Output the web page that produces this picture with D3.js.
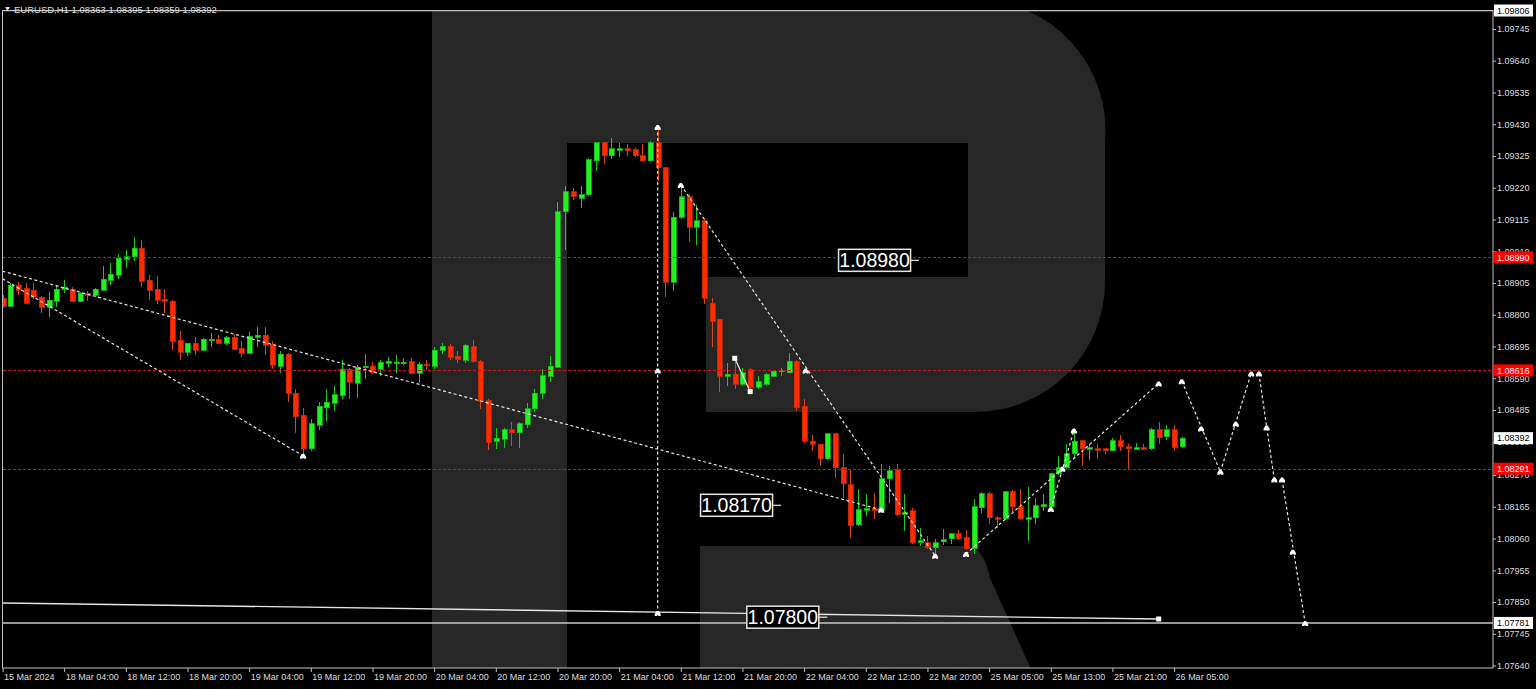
<!DOCTYPE html>
<html><head><meta charset="utf-8">
<script src="https://cdn.jsdelivr.net/npm/d3@7"></script>
<style>
html,body{margin:0;padding:0;background:#000;overflow:hidden}
svg{display:block}
text{font-family:"Liberation Sans",Arial,sans-serif}
</style></head><body>
<svg id="c" width="1536" height="689"></svg>
<script>
const symbol = "EURUSD,H1";
const opens = [1.08855,1.08828,1.08898,1.08888,1.08881,1.08858,1.08825,1.08845,1.08884,1.08884,
1.08845,1.08871,1.08865,1.08881,1.08914,1.08931,1.08984,1.08991,1.09020,1.08914,
1.08884,1.08851,1.08845,1.08715,1.08676,1.08706,1.08682,1.08715,1.08719,1.08706,
1.08725,1.08689,1.08672,1.08725,1.08732,1.08702,1.08629,1.08669,1.08540,1.08467,
1.08357,1.08434,1.08493,1.08507,1.08533,1.08619,1.08573,1.08626,1.08629,1.08619,
1.08639,1.08639,1.08639,1.08646,1.08606,1.08636,1.08629,1.08682,1.08696,1.08662,
1.08649,1.08696,1.08646,1.08517,1.08381,1.08388,1.08420,1.08410,1.08437,1.08490,
1.08540,1.08596,1.08626,1.09140,1.09206,1.09186,1.09196,1.09309,1.09368,1.09325,
1.09345,1.09349,1.09345,1.09325,1.09309,1.09368,1.09286,1.08908,1.09123,1.09190,
1.09090,1.09110,1.08838,1.08785,1.08596,1.08603,1.08570,1.08619,1.08560,1.08570,
1.08596,1.08613,1.08609,1.08646,1.08497,1.08381,1.08371,1.08324,1.08407,1.08294,
1.08238,1.08105,1.08155,1.08158,1.08152,1.08258,1.08288,1.08142,1.08152,1.08049,
1.08046,1.08029,1.08049,1.08059,1.08076,1.08062,1.08026,1.08162,1.08208,1.08129,
1.08125,1.08215,1.08165,1.08125,1.08129,1.08165,1.08165,1.08274,1.08294,1.08341,
1.08384,1.08357,1.08357,1.08357,1.08351,1.08384,1.08364,1.08357,1.08361,1.08357,
1.08420,1.08397,1.08420,1.08363];
const highs = [1.08865,1.08904,1.08908,1.08904,1.08904,1.08861,1.08875,1.08898,1.08914,1.08891,
1.08875,1.08878,1.08888,1.08961,1.08971,1.09000,1.09014,1.09057,1.09047,1.08931,
1.08928,1.08884,1.08848,1.08745,1.08708,1.08725,1.08722,1.08739,1.08732,1.08729,
1.08735,1.08712,1.08742,1.08759,1.08759,1.08712,1.08679,1.08672,1.08556,1.08493,
1.08454,1.08510,1.08553,1.08566,1.08649,1.08623,1.08633,1.08669,1.08643,1.08649,
1.08659,1.08666,1.08656,1.08656,1.08643,1.08652,1.08692,1.08706,1.08702,1.08679,
1.08702,1.08715,1.08649,1.08520,1.08424,1.08427,1.08444,1.08447,1.08507,1.08556,
1.08619,1.08662,1.09173,1.09226,1.09219,1.09226,1.09319,1.09372,1.09372,1.09385,
1.09368,1.09365,1.09352,1.09365,1.09375,1.09420,1.09289,1.09140,1.09223,1.09200,
1.09163,1.09120,1.08855,1.08787,1.08639,1.08656,1.08623,1.08623,1.08599,1.08609,
1.08616,1.08623,1.08672,1.08652,1.08523,1.08404,1.08374,1.08410,1.08410,1.08341,
1.08291,1.08225,1.08208,1.08211,1.08308,1.08301,1.08308,1.08208,1.08162,1.08095,
1.08069,1.08059,1.08092,1.08079,1.08089,1.08089,1.08192,1.08215,1.08215,1.08135,
1.08218,1.08221,1.08225,1.08231,1.08195,1.08208,1.08278,1.08334,1.08374,1.08417,
1.08387,1.08374,1.08374,1.08361,1.08394,1.08404,1.08374,1.08377,1.08374,1.08424,
1.08447,1.08437,1.08437,1.08395];
const lows = [1.08822,1.08825,1.08865,1.08835,1.08851,1.08805,1.08792,1.08825,1.08871,1.08841,
1.08841,1.08845,1.08861,1.08878,1.08898,1.08918,1.08954,1.08977,1.08891,1.08848,
1.08835,1.08805,1.08682,1.08649,1.08662,1.08666,1.08679,1.08692,1.08702,1.08699,
1.08682,1.08659,1.08669,1.08692,1.08666,1.08619,1.08606,1.08510,1.08410,1.08341,
1.08351,1.08420,1.08450,1.08483,1.08523,1.08523,1.08526,1.08589,1.08603,1.08599,
1.08626,1.08606,1.08633,1.08603,1.08573,1.08616,1.08619,1.08669,1.08652,1.08639,
1.08639,1.08639,1.08490,1.08354,1.08357,1.08361,1.08367,1.08361,1.08424,1.08477,
1.08523,1.08576,1.08623,1.09014,1.09180,1.09153,1.09193,1.09276,1.09299,1.09315,
1.09322,1.09325,1.09322,1.09305,1.09305,1.09243,1.08858,1.08878,1.09117,1.09040,
1.09030,1.08835,1.08692,1.08546,1.08566,1.08553,1.08563,1.08553,1.08556,1.08563,
1.08593,1.08596,1.08606,1.08483,1.08377,1.08348,1.08301,1.08321,1.08261,1.08195,
1.08062,1.08102,1.08135,1.08125,1.08145,1.08178,1.08135,1.08086,1.08042,1.08036,
1.08026,1.08009,1.08039,1.08042,1.08056,1.08023,1.08009,1.08145,1.08109,1.08095,
1.08122,1.08149,1.08122,1.08052,1.08109,1.08152,1.08162,1.08271,1.08291,1.08328,
1.08301,1.08321,1.08324,1.08341,1.08348,1.08348,1.08291,1.08354,1.08354,1.08354,
1.08374,1.08387,1.08351,1.08359];
const closes = [1.08828,1.08898,1.08881,1.08838,1.08858,1.08825,1.08848,1.08884,1.08891,1.08845,
1.08871,1.08865,1.08884,1.08918,1.08934,1.08987,1.08991,1.09020,1.08911,1.08881,
1.08848,1.08845,1.08712,1.08676,1.08706,1.08682,1.08719,1.08719,1.08706,1.08725,
1.08686,1.08672,1.08729,1.08732,1.08699,1.08633,1.08669,1.08540,1.08463,1.08357,
1.08440,1.08497,1.08510,1.08536,1.08619,1.08576,1.08626,1.08629,1.08609,1.08643,
1.08646,1.08643,1.08643,1.08606,1.08636,1.08633,1.08682,1.08696,1.08659,1.08652,
1.08699,1.08646,1.08513,1.08377,1.08391,1.08420,1.08410,1.08440,1.08490,1.08540,
1.08599,1.08629,1.09140,1.09206,1.09190,1.09196,1.09312,1.09368,1.09325,1.09349,
1.09349,1.09342,1.09325,1.09309,1.09368,1.09286,1.08908,1.09123,1.09190,1.09090,
1.09110,1.08855,1.08778,1.08596,1.08603,1.08570,1.08609,1.08560,1.08579,1.08603,
1.08613,1.08616,1.08646,1.08493,1.08381,1.08371,1.08324,1.08407,1.08294,1.08241,
1.08102,1.08155,1.08158,1.08152,1.08258,1.08284,1.08139,1.08145,1.08046,1.08052,
1.08029,1.08046,1.08056,1.08076,1.08059,1.08026,1.08165,1.08208,1.08129,1.08125,
1.08215,1.08165,1.08125,1.08129,1.08168,1.08172,1.08274,1.08294,1.08341,1.08381,
1.08357,1.08361,1.08354,1.08351,1.08384,1.08364,1.08357,1.08361,1.08357,1.08420,
1.08394,1.08420,1.08361,1.08392];

const timeLabels = ["15 Mar 2024","18 Mar 04:00","18 Mar 12:00","18 Mar 20:00","19 Mar 04:00","19 Mar 12:00","19 Mar 20:00","20 Mar 04:00","20 Mar 12:00","20 Mar 20:00","21 Mar 04:00","21 Mar 12:00","21 Mar 20:00","22 Mar 04:00","22 Mar 12:00","22 Mar 20:00","25 Mar 05:00","25 Mar 13:00","25 Mar 21:00","26 Mar 05:00"];
const timeLabelStep = 8;
const priceTicks = [1.09745,1.09640,1.09535,1.09430,1.09325,1.09220,1.09115,1.09010,1.08905,1.08800,1.08695,1.08590,1.08485,1.08380,1.08270,1.08165,1.08060,1.07955,1.07850,1.07745,1.07640];
const redLevels = [1.08990,1.08616,1.08291];
const whiteLevels = [1.09806,1.07781];
const currentPrice = 1.08392;

// dashed forecast / trend lines: [barIndex, price] pairs
const dashedLines = [
  [[0,1.08944],[114,1.08155]],
  [[0,1.08919],[39,1.08334]],
  [[85,1.09421],[85,1.07814]],
  [[88,1.09229],[121,1.08003]],
  [[125,1.08009],[150,1.08573]],
  [[136,1.08158],[139,1.08417]],
  [[153,1.08580],[158,1.08281]],
  [[158,1.08281],[162,1.08606]],
  [[163,1.08606],[165,1.08255]],
  [[166,1.08255],[169,1.07781]]
];
const solidLines = [
  [[0,1.07847],[150,1.07794]],
  [[95,1.08656],[97,1.08546]]
];
const squares = [[95,1.08656],[97,1.08546],[150,1.07794]];
const arrowMarks = [[39,1.08334],[85,1.09421],[85,1.08616],[85,1.07814],[88,1.09229],[104.2,1.08616],[114,1.08155],[121,1.08003],[125,1.08009],[136,1.08158],[137.5,1.08291],[139,1.08417],[150,1.08573],[153,1.08580],[155.5,1.08424],[158,1.08281],[160,1.08440],[162,1.08606],[163,1.08606],[164,1.08427],[165,1.08255],[166,1.08255],[167.4,1.08016],[169,1.07781]];
const priceTextLabels = [
  {text:"1.08980", value:1.08980, bar:108.4},
  {text:"1.08170", value:1.08170, bar:90.5},
  {text:"1.07800", value:1.07800, bar:96.5}
];

const W=1536,H=689;
const plot={left:3,top:11,right:1493,bottom:668};
const x=d3.scaleLinear().domain([0,169]).range([2.5,2.5+169*7.708]);
const y=d3.scaleLinear().domain([1.07632,1.09806]).range([668,10.5]);
const svg=d3.select("#c");
svg.append("rect").attr("width",W).attr("height",H).attr("fill","#000");
svg.append("defs").append("clipPath").attr("id","clip").append("rect")
  .attr("x",plot.left).attr("y",plot.top-1).attr("width",plot.right-plot.left).attr("height",plot.bottom-plot.top+1);
const g=svg.append("g").attr("clip-path","url(#clip)");

// watermark "R"
const wm="#262626";
g.append("path").attr("fill",wm)
 .attr("d","M432,0 H975 A130,130 0 0 1 1105,141 V282 A130,130 0 0 1 975,412 H706 V277 H968 V143 H567 V700 H432 Z");
g.append("path").attr("fill",wm)
 .attr("d","M700,546 H968 Q984,548 990,578 L1045,700 H700 Z");

// candles
const data=opens.map((o,i)=>({i,o,h:highs[i],l:lows[i],c:closes[i]}));
const cg=g.append("g").attr("shape-rendering","crispEdges");
cg.selectAll("line.w").data(data).join("line")
  .attr("x1",d=>Math.round(x(d.i))+0.5).attr("x2",d=>Math.round(x(d.i))+0.5)
  .attr("y1",d=>y(d.h)).attr("y2",d=>y(d.l))
  .attr("stroke",d=>d.c>=d.o?"#1fc81f":"#d8461a").attr("stroke-width",1);
cg.selectAll("rect.b").data(data).join("rect")
  .attr("x",d=>Math.round(x(d.i))-2).attr("width",5)
  .attr("y",d=>y(Math.max(d.o,d.c)))
  .attr("height",d=>Math.max(1.5,y(Math.min(d.o,d.c))-y(Math.max(d.o,d.c))))
  .attr("fill",d=>d.c>=d.o?"#22f022":"#ff2a00")
  .attr("stroke",d=>d.c>=d.o?"#18b818":"#c02a08").attr("stroke-width",0.8);

// level lines
g.selectAll("line.red").data(redLevels).join("line")
  .attr("x1",plot.left).attr("x2",plot.right).attr("y1",d=>Math.round(y(d))+0.5).attr("y2",d=>Math.round(y(d))+0.5)
  .attr("stroke","#d01414").attr("stroke-width",1.2).attr("stroke-dasharray","3,2");
g.selectAll("line.wl").data(whiteLevels).join("line")
  .attr("x1",plot.left).attr("x2",plot.right).attr("y1",d=>y(d)).attr("y2",d=>y(d))
  .attr("stroke","#c8c8c8").attr("stroke-width",1.6);

// trend lines
const lineGen=d3.line().x(d=>x(d[0])).y(d=>y(d[1]));
g.selectAll("path.dl").data(dashedLines).join("path")
  .attr("d",lineGen).attr("fill","none").attr("stroke","#e6e6e6").attr("stroke-width",1.2).attr("stroke-dasharray","3,2.5");
g.selectAll("path.sl").data(solidLines).join("path")
  .attr("d",lineGen).attr("fill","none").attr("stroke","#e6e6e6").attr("stroke-width",1.3);
g.selectAll("rect.sq").data(squares).join("rect")
  .attr("x",d=>x(d[0])-2.5).attr("y",d=>y(d[1])-2.5).attr("width",5).attr("height",5).attr("fill","#fff");
g.selectAll("path.am").data(arrowMarks).join("path")
  .attr("transform",d=>`translate(${x(d[0])},${y(d[1])})`)
  .attr("d","M-3,1 L-1,-2 L1,-2 L3,1 L3,3 L1,3 L0,2 L-1,3 L-3,3 Z").attr("fill","#fff");

// big price text labels
priceTextLabels.forEach(p=>{
  const lx=x(p.bar), cy=y(p.value);
  const lg=g.append("g");
  lg.append("rect").attr("x",lx+0.5).attr("y",cy-11).attr("width",72).attr("height",22)
    .attr("fill","#000").attr("stroke","#e6e6e6").attr("stroke-width",1.5);
  lg.append("text").attr("x",lx+36.5).attr("y",cy+7).attr("text-anchor","middle")
    .attr("fill","#fff").attr("font-size",19.5).text(p.text);
  lg.append("line").attr("x1",lx+72.5).attr("x2",lx+81).attr("y1",cy).attr("y2",cy)
    .attr("stroke","#e6e6e6").attr("stroke-width",1.2);
});

// frame
svg.append("rect").attr("x",2.5).attr("y",10.5).attr("width",plot.right-2.5).attr("height",plot.bottom-10.5)
  .attr("fill","none").attr("stroke","#c0c0c0").attr("stroke-width",1);

// header
const last=data[data.length-1];
svg.append("path").attr("d","M5,7 L10,7 L7.5,11 Z").attr("fill","#ddd");
svg.append("text").attr("x",14).attr("y",12.5).attr("fill","#ddd").attr("font-size",9.5)
  .text(`${symbol}  ${last.o.toFixed(5)} ${last.h.toFixed(5)} ${last.l.toFixed(5)} ${last.c.toFixed(5)}`);

// bottom axis
const xAxis=d3.axisBottom(x).tickValues(timeLabels.map((t,k)=>k*timeLabelStep))
  .tickFormat((d,k)=>timeLabels[k]).tickSize(4).tickSizeOuter(0);
const xa=svg.append("g").attr("transform",`translate(0,${plot.bottom})`).call(xAxis);
xa.select(".domain").remove();
xa.selectAll("line").attr("stroke","#c0c0c0");
xa.selectAll("text").attr("text-anchor","start").attr("dx",1).attr("dy","0.55em")
  .attr("fill","#ddd").attr("font-size",9).attr("font-family","Liberation Sans, Arial, sans-serif");

// right axis
const yAxis=d3.axisRight(y).tickValues(priceTicks).tickFormat(d3.format(".5f")).tickSize(3).tickSizeOuter(0);
const ya=svg.append("g").attr("transform",`translate(${plot.right},0)`).call(yAxis);
ya.select(".domain").remove();
ya.selectAll("line").attr("stroke","#c0c0c0");
ya.selectAll("text").attr("x",4).attr("fill","#ddd").attr("font-size",9).attr("font-family","Liberation Sans, Arial, sans-serif");

// axis price boxes
function axisBox(v,bg,fg){
  const cy=y(v);
  svg.append("rect").attr("x",plot.right+1).attr("y",cy-6).attr("width",39).attr("height",12).attr("fill",bg);
  svg.append("text").attr("x",plot.right+4).attr("y",cy+3.3).attr("fill",fg).attr("font-size",9).text(v.toFixed(5));
}
redLevels.forEach(v=>axisBox(v,"#ff0000","#fff"));
whiteLevels.forEach(v=>axisBox(v,"#ffffff","#000"));
axisBox(currentPrice,"#ffffff","#000");
</script>
</body></html>
